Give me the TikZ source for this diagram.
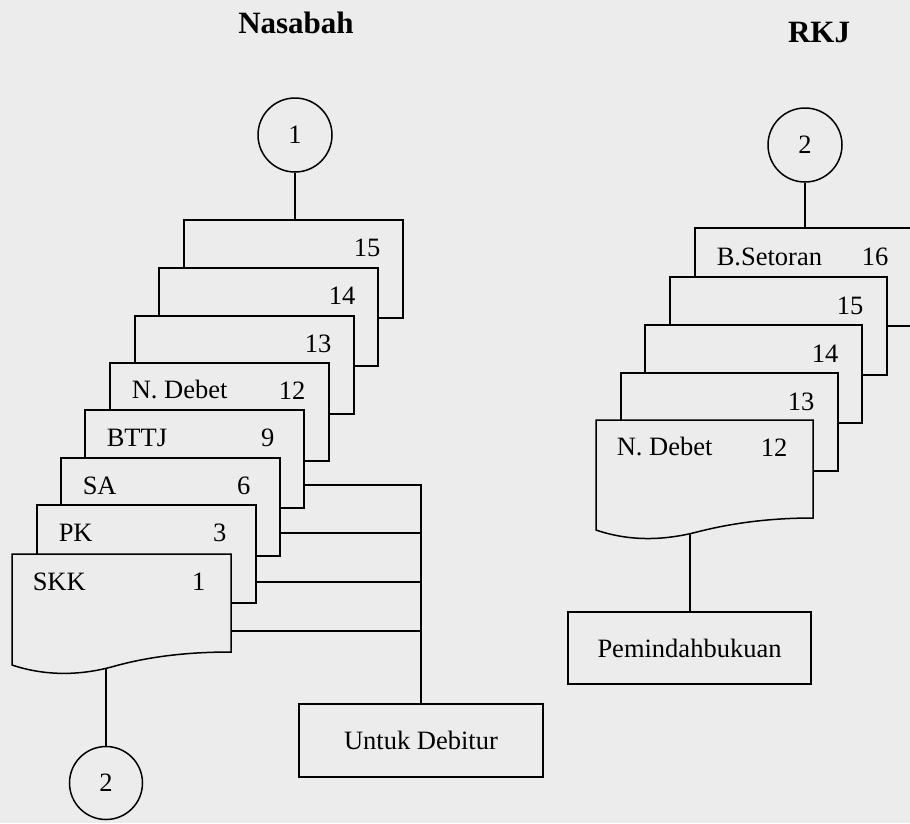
\documentclass[tikz,border=0pt]{standalone}
\usepackage{fontspec}
\setmainfont{Liberation Serif}
\definecolor{paper}{RGB}{236,236,237}
\begin{document}
\begin{tikzpicture}[x=1pt,y=-1pt,line width=1.5pt,
  sheet/.style={draw, fill=paper, anchor=north west, inner sep=0pt, outer sep=0pt,
    minimum width=219pt, minimum height=98pt},
  rsheet/.style={sheet, minimum width=217pt},
  txt/.style={font=\fontsize{26.5}{31}\selectfont, inner sep=0pt},
  title/.style={font=\bfseries\fontsize{31}{36}\selectfont, inner sep=0pt, anchor=base},
  conn/.style={draw, circle, fill=paper, minimum size=74pt, inner sep=0pt,
    font=\fontsize{26.5}{31}\selectfont},
  procbox/.style={draw, fill=paper, inner sep=0pt, outer sep=0pt,
    font=\fontsize{26.5}{31}\selectfont}
]
\useasboundingbox (0,0) rectangle (910,823);
\clip (0,0) rectangle (910,823);
\fill[paper] (0,0) rectangle (910,823);

% column headings
\node[title] (hNas) at (296,33) {Nasabah};
\node[title] (hRkj) at (819,42) {RKJ};

% ---------- Nasabah: stacked documents, back to front ----------
\node[sheet] (d15) at (184,220) {};
\node[sheet] (d14) at (159,268) {};
\node[sheet] (d13) at (135,316) {};
\node[sheet] (d12) at (110,363) {};
\node[sheet] (d9)  at (85,410) {};
\node[sheet] (d6)  at (61,458) {};
\node[sheet] (d3)  at (37,505) {};
\node[sheet, draw=none, fill=none] (skk) at (12,554) {};
\draw[fill=paper] (skk.north west) -- (skk.north east) -- (skk.south east)
  .. controls (195,652) and (155,655) .. (115,666)
  .. controls (80,676) and (45,676) .. ([yshift=-13pt]skk.south west) -- cycle;

% sheet captions and numbers
\node[txt, anchor=base east] (n15) at ([shift={(-22,36)}]d15.north east) {15};
\node[txt, anchor=base east] (n14) at ([shift={(-22,36)}]d14.north east) {14};
\node[txt, anchor=base east] (n13) at ([shift={(-22,36)}]d13.north east) {13};
\node[txt, anchor=base west] (t12) at ([shift={(21,35)}]d12.north west) {N. Debet};
\node[txt, anchor=base east] (n12) at ([shift={(-23,36)}]d12.north east) {12};
\node[txt, anchor=base west] (t9) at ([shift={(21,36)}]d9.north west) {BTTJ};
\node[txt, anchor=base east] (n9) at ([shift={(-29,36)}]d9.north east) {9};
\node[txt, anchor=base west] (t6) at ([shift={(21,36)}]d6.north west) {SA};
\node[txt, anchor=base east] (n6) at ([shift={(-29,36)}]d6.north east) {6};
\node[txt, anchor=base west] (t3) at ([shift={(21,36)}]d3.north west) {PK};
\node[txt, anchor=base east] (n3) at ([shift={(-29,36)}]d3.north east) {3};
\node[txt, anchor=base west] (t1) at ([shift={(20,36)}]skk.north west) {SKK};
\node[txt, anchor=base east] (n1) at ([shift={(-25,36)}]skk.north east) {1};

% connectors and output box
\node[conn] (c1) at (295,135) {1};
\draw (c1.south) -- (c1.south |- d15.north);

\node[conn, minimum size=73pt] (c2l) at (106,783) {2};
\coordinate (skkw) at (106,669);
\draw (skkw) -- (c2l.north);

\node[procbox, minimum width=244pt, minimum height=73pt] (ud) at (421,740.5) {Untuk Debitur};
\coordinate (j9) at (421,485);
\coordinate (j6) at (421,533);
\coordinate (j3) at (421,582);
\coordinate (j1) at (421,631);
\draw (d9.east |- j9) -- (j9) -- (ud.north);
\draw (d6.east |- j6) -- (j6);
\draw (d3.east |- j3) -- (j3);
\draw (skk.east |- j1) -- (j1);

% ---------- RKJ: stacked documents, back to front ----------
\node[rsheet] (r16) at (695,228) {};
\node[rsheet] (r15) at (670,277) {};
\node[rsheet] (r14) at (645,325) {};
\node[rsheet] (r13) at (621,373) {};
\node[rsheet, draw=none, fill=none] (rnd) at (596,420) {};
\draw[fill=paper] (rnd.north west) -- (rnd.north east) -- (rnd.south east)
  .. controls (770,518) and (732,523) .. (697,532)
  .. controls (662,541) and (628,541) .. ([yshift=-12pt]rnd.south west) -- cycle;

\node[txt, anchor=base west] (rt16) at ([shift={(21,37)}]r16.north west) {B.Setoran};
\node[txt, anchor=base east] (rn16) at ([shift={(-23,37)}]r16.north east) {16};
\node[txt, anchor=base east] (rn15) at ([shift={(-23,37)}]r15.north east) {15};
\node[txt, anchor=base east] (rn14) at ([shift={(-23,37)}]r14.north east) {14};
\node[txt, anchor=base east] (rn13) at ([shift={(-23,37)}]r13.north east) {13};
\node[txt, anchor=base west] (rt12) at ([shift={(20,35)}]rnd.north west) {N. Debet};
\node[txt, anchor=base east] (rn12) at ([shift={(-25,36)}]rnd.north east) {12};

\node[conn] (c2r) at (805,145) {2};
\draw (c2r.south) -- (c2r.south |- r16.north);

\node[procbox, minimum width=243pt, minimum height=72pt] (pb) at (689.5,648) {Pemindahbukuan};
\coordinate (ndw) at (690,534);
\draw (ndw) -- (ndw |- pb.north);
\end{tikzpicture}
\end{document}
